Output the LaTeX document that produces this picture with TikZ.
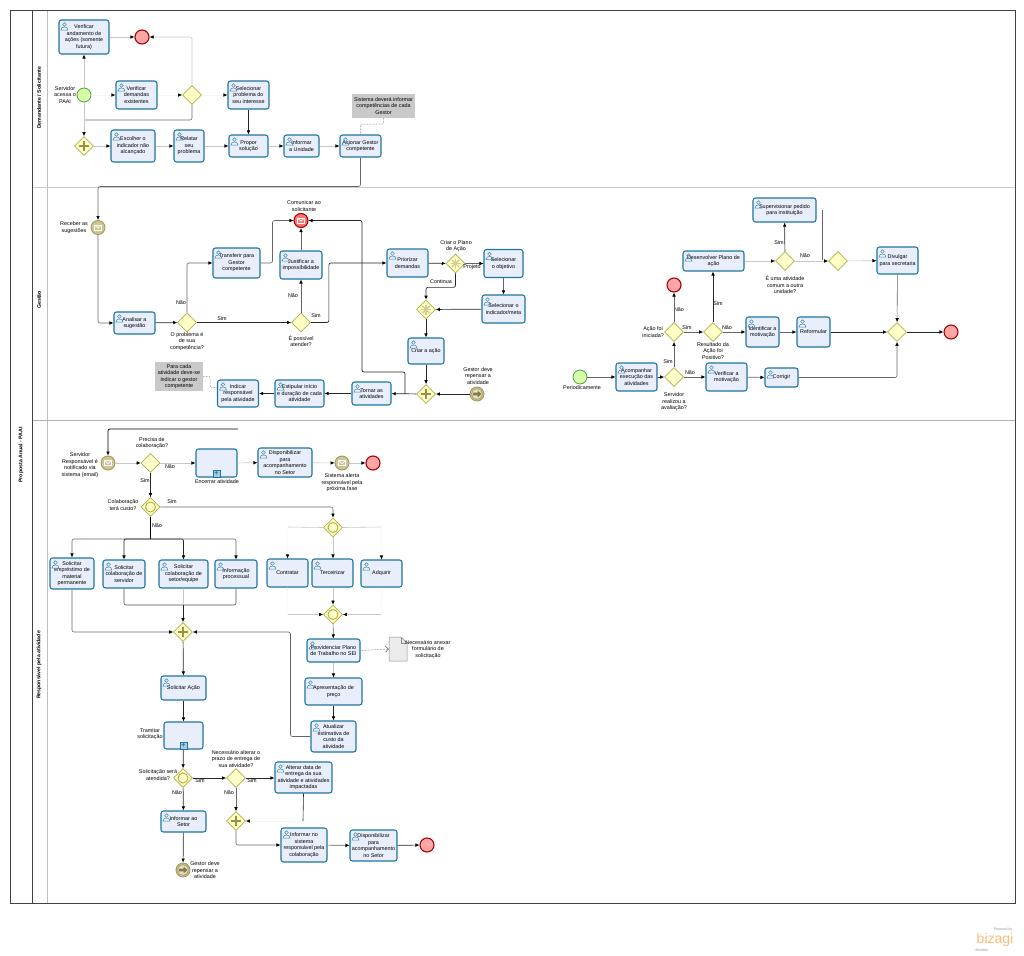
\documentclass[tikz,border=0pt]{standalone}
\usepackage{fontspec}
\setmainfont{Liberation Sans}
\usetikzlibrary{arrows.meta,shapes.geometric}

\definecolor{taskline}{HTML}{1F74A0}
\definecolor{taskfill}{HTML}{E8EEFB}
\definecolor{gateline}{HTML}{B3AE4A}
\definecolor{gatefill}{HTML}{FFFFC8}
\definecolor{evline}{HTML}{A39A5C}
\definecolor{evfill}{HTML}{CDC592}
\definecolor{notefill}{HTML}{C9C9C9}
\newcommand{\lab}{\fontsize{5.4}{6.5}\selectfont}

\tikzset{
  task/.style={draw=taskline,fill=taskfill,rounded corners=2.5pt,line width=1.05pt,align=center,font=\lab,inner sep=0pt},
  gate/.style={diamond,draw=gateline,fill=gatefill,line width=.7pt,minimum width=19pt,minimum height=19pt,inner sep=0pt},
  startev/.style={circle,draw=green!45!black!70,fill=green!45!yellow!35,line width=.8pt,minimum size=14pt,inner sep=0pt},
  endev/.style={circle,draw=red!65!black,fill=red!35!white,line width=1.1pt,minimum size=14pt,inner sep=0pt},
  midev/.style={circle,draw=evline,fill=evfill,line width=.9pt,minimum size=14pt,inner sep=0pt},
  lab/.style={align=center,font=\lab,inner sep=0pt},
  lanetitle/.style={rotate=90,font=\fontsize{5.2}{6}\selectfont\bfseries,inner sep=0pt},
  notebox/.style={fill=notefill,align=center,font=\lab,inner sep=0pt},
  flow/.style={draw=black!60,line width=.6pt,rounded corners=2pt,-{Latex[color=black,length=4pt,width=3.6pt]}},
  flowdark/.style={flow,draw=black!85,line width=.7pt},
  flowlight/.style={flow,draw=black!22},
  flowfaint/.style={flow,draw=black!4},
  plainflow/.style={draw=black!60,line width=.6pt,rounded corners=2pt},
  plainlight/.style={plainflow,draw=black!22},
  plainfaint/.style={plainflow,draw=black!4},
  assoc/.style={draw=black!70,line width=.5pt,densely dotted,rounded corners=1pt},
  usericon/.pic={
    \draw[draw=taskline!85,line width=.5pt] (0,-1.9) circle (1.8);
    \draw[draw=taskline!85,line width=.5pt] (-3.5,3.6) .. controls (-3.5,-.6) and (3.5,-.6) .. (3.5,3.6) -- cycle;
  }
}

\newcommand{\Task}[6]{
  \node[task,minimum width=#4pt,minimum height=#5pt] (#1) at (#2,#3) {#6};
  \pic at ([shift={(6,7)}]#1.north west) {usericon};
}
\newcommand{\SubTask}[5]{
  \node[task,minimum width=#4pt,minimum height=#5pt] (#1) at (#2,#3) {};
  \node[draw=taskline,fill=taskfill!70!taskline,line width=.6pt,minimum size=7pt,inner sep=0pt,above=0pt,font=\bfseries\fontsize{7}{7}\selectfont,text=taskline] (#1mark) at (#1.south) {+};
}
\newcommand{\GatePlus}[1]{
  \draw[evline!70!olive,line width=2pt] ([xshift=-5pt]#1.center) -- ([xshift=5pt]#1.center);
  \draw[evline!70!olive,line width=2pt] ([yshift=-5pt]#1.center) -- ([yshift=5pt]#1.center);
}
\newcommand{\GateRing}[1]{
  \draw[gateline,line width=.9pt,fill=gatefill] (#1.center) circle (5);
}
\newcommand{\GateStar}[1]{
  \foreach \a in {0,45,90,135}{
    \draw[gateline!60,line width=1.4pt] ([shift={(\a:5pt)}]#1.center) -- ([shift={(\a+180:5pt)}]#1.center);
  }
}
\newcommand{\Envelope}[2]{
  \draw[draw=#2,line width=.7pt] ([shift={(-3.6pt,-2.6pt)}]#1.center) rectangle ([shift={(3.6pt,2.6pt)}]#1.center);
  \draw[draw=#2,line width=.7pt] ([shift={(-3.6pt,2.6pt)}]#1.center) -- ([shift={(0pt,-.6pt)}]#1.center) -- ([shift={(3.6pt,2.6pt)}]#1.center);
}
\newcommand{\LinkMark}[1]{
  \draw[evline,line width=.7pt,fill=evfill!50!white] (#1.center) circle (5.4);
  \fill[evline!80!black] ([shift={(-4pt,-1.4pt)}]#1.center) -- ([shift={(.5pt,-1.4pt)}]#1.center) -- ([shift={(.5pt,-3.6pt)}]#1.center) -- ([shift={(4.4pt,0pt)}]#1.center) -- ([shift={(.5pt,3.6pt)}]#1.center) -- ([shift={(.5pt,1.4pt)}]#1.center) -- ([shift={(-4pt,1.4pt)}]#1.center) -- cycle;
}

\begin{document}
\begin{tikzpicture}[x=1pt,y=-1pt]
\useasboundingbox (0,0) rectangle (1024,955);

% pool and lanes
\draw[black!25,line width=.5pt] (47,10) -- (47,903);
\draw[black!20,line width=.9pt] (32,187) -- (1015,187);
\draw[black!30,line width=1.2pt] (32,420.5) -- (1015,420.5);
\draw[black!75,line width=.8pt] (10,10) rectangle (1015,903);
\draw[black!75,line width=.8pt] (32,10) -- (32,903);
\node[lanetitle] (poolname) at (21,455) {Proposta Anual - PAAI};
\node[lanetitle] (lane1) at (39,98) {Demandante / Solicitante};
\node[lanetitle] (lane2) at (39,300) {Gestão};
\node[lanetitle] (lane3) at (39,665) {Responsável pela atividade};

% demandante
\Task{verificarAcoes}{84}{37}{50}{34}{Verificar\\andamento de\\ações (somente\\futura)}
\node[endev] (fimAcoes) at (142,37) {};
\node[startev] (inicio) at (84,95) {};
\node[lab] (inicioLab) at (65,95) {Servidor\\acessa o\\PAAI};
\Task{verificarDemandas}{136.5}{95}{41}{28}{Verificar\\demandas\\existentes}
\node[gate] (gwDemandas) at (192,95) {};
\Task{selecionarProblema}{248.5}{95}{41}{28}{Selecionar\\problema do\\seu interesse}
\node[gate] (gwInicio) at (84,146) {};
\GatePlus{gwInicio}
\Task{escolherIndicador}{133}{146}{44}{32}{Escolher o\\indicador não\\alcançado}
\Task{relatarProblema}{189}{146}{30}{32}{Relatar\\seu\\problema}
\Task{proporSolucao}{248.5}{146}{39}{22}{Propor\\solução}
\Task{informarUnidade}{301.5}{146}{35}{22}{Informar\\a Unidade}
\Task{acionarGestor}{360.5}{146}{41}{22}{Acionar Gestor\\competente}
\node[notebox,minimum width=63pt,minimum height=24pt] (notaCompetencia) at (383.5,106) {Sistema deverá informar\\competências de cada\\Gestor};
\coordinate (juncaoInicio) at (85,120);

\draw[flowlight] (inicio) -- (verificarAcoes);
\draw[flowlight] (verificarAcoes) -- (fimAcoes);
\draw[flowlight] (gwDemandas.north) |- (fimAcoes.east);
\draw[flowlight] (inicio) -- (gwInicio);
\draw[plainflow] (gwDemandas.south) |- (juncaoInicio);
\draw[flowfaint] (inicio) -- (verificarDemandas);
\draw[flowfaint] (verificarDemandas) -- (gwDemandas);
\draw[flowfaint] (gwDemandas) -- (selecionarProblema);
\draw[flowlight] (gwInicio) -- (escolherIndicador);
\draw[flowlight] (escolherIndicador) -- (relatarProblema);
\draw[flowlight] (relatarProblema) -- (proporSolucao);
\draw[flowlight] (proporSolucao) -- (informarUnidade);
\draw[flowlight] (informarUnidade) -- (acionarGestor);
\draw[flowdark] (selecionarProblema) -- (proporSolucao);
\draw[assoc] (notaCompetencia.south) -- ++(0,6) -| (acionarGestor.north);

% gestao
\node[midev] (receber) at (98,227.5) {};
\Envelope{receber}{white}
\node[lab,anchor=east] (receberLab) at (88,227.5) {Receber as\\sugestões};
\Task{analisarSugestao}{134.5}{323}{41}{22}{Analisar a\\sugestão}
\node[gate] (gwCompetencia) at (187,322.5) {};
\node[lab] (gwCompetenciaLab) at (187,341.5) {O problema é\\de sua\\competência?};
\Task{transferir}{236.5}{263}{47}{30}{Transferir para\\Gestor\\competente}
\node[gate] (gwAtender) at (301,322.5) {};
\node[lab] (gwAtenderLab) at (301,341) {É possível\\atender?};
\Task{justificar}{301}{265}{42}{28}{Justificar a\\impossibilidade}
\node[endev,fill=red!55!white] (comunicar) at (301,220.5) {};
\Envelope{comunicar}{white}
\node[lab] (comunicarLab) at (304,206) {Comunicar ao\\solicitante};
\node[lab] (naoA) at (181,303) {Não};
\node[lab] (simA) at (222,319) {Sim};
\node[lab] (naoB) at (293,296) {Não};
\node[lab] (simB) at (316,316) {Sim};
\Task{priorizar}{407.5}{263}{41}{28}{Priorizar\\demandas}
\node[gate] (gwPlano) at (455.5,263.5) {};
\GateStar{gwPlano}
\node[lab] (gwPlanoLab) at (456,246) {Criar o Plano\\de Ação};
\node[lab] (projetoLab) at (472,267) {Projeto};
\node[lab] (continuaLab) at (441,282) {Continua};
\Task{selecionarObjetivo}{503.5}{263.5}{39}{28}{Selecionar\\o objetivo}
\Task{selecionarMeta}{503.5}{309}{43}{28}{Selecionar o\\indicador/meta}
\node[gate] (gwJuncao) at (426,309.5) {};
\GateStar{gwJuncao}
\Task{criarAcao}{426}{351}{36}{26}{Criar a ação}
\node[gate] (gwAcao) at (426,394) {};
\GatePlus{gwAcao}
\node[midev] (repensar) at (477,394) {};
\LinkMark{repensar}
\node[lab] (repensarLab) at (478,376) {Gestor deve\\repensar a\\atividade};
\Task{tornarAtividades}{371.5}{393.5}{39}{23}{Tornar as\\atividades}
\Task{estipular}{299.5}{393.5}{49}{27}{Estipular início\\e duração de cada\\atividade}
\Task{indicar}{238}{393.5}{41}{27}{Indicar\\responsável\\pela atividade}
\node[notebox,minimum width=48pt,minimum height=29pt] (notaAtividade) at (179,376.5) {Para cada\\atividade deve-se\\indicar o gestor\\competente};
\coordinate (saidaAcao) at (405,394);

\draw[flow] (acionarGestor.south) -- ++(0,29) -| (receber.north);
\draw[flow] (receber.south) |- (analisarSugestao.west);
\draw[flowdark] (analisarSugestao) -- (gwCompetencia);
\draw[flow] (gwCompetencia.north) |- (transferir.west);
\draw[flow] (transferir.east) -- ++(12,0) |- (comunicar.west);
\draw[flowdark] (gwCompetencia) -- (gwAtender);
\draw[flow] (gwAtender) -- (justificar);
\draw[flow] (justificar) -- (comunicar);
\draw[flowdark] (gwAtender.east) -- ++(18,0) |- (priorizar.west);
\draw[flowdark] (priorizar) -- (gwPlano);
\draw[flow] (gwPlano) -- (selecionarObjetivo);
\draw[flowdark] (gwPlano.south) -- ++(0,14) -| (gwJuncao.north);
\draw[flow] (selecionarObjetivo) -- (selecionarMeta);
\draw[flowdark] (selecionarMeta) -- (gwJuncao);
\draw[flowdark] (gwJuncao) -- (criarAcao);
\draw[flowdark] (criarAcao) -- (gwAcao);
\draw[flowdark] (repensar) -- (gwAcao);
\draw[flowdark] (gwAcao) -- (tornarAtividades);
\draw[flowdark] (tornarAtividades) -- (estipular);
\draw[flowdark] (estipular) -- (indicar);
\draw[flowdark] (saidaAcao) -- ++(0,-22) -- ++(-43,0) |- (comunicar.east);
\draw[assoc] (notaAtividade.east) -- ++(7,0) |- ([yshift=6pt]indicar.west);

% acompanhamento
\node[startev] (periodo) at (580,377) {};
\node[lab] (periodoLab) at (582,388) {Periodicamente};
\Task{acompanhar}{636.5}{377}{41}{28}{Acompanhar\\execução das\\atividades}
\node[gate] (gwAvaliacao) at (674,377) {};
\node[lab] (gwAvaliacaoLab) at (674,402) {Servidor\\realizou a\\avaliação?};
\node[gate] (gwIniciada) at (674,332) {};
\node[lab,anchor=east] (gwIniciadaLab) at (664,332) {Ação foi\\iniciada?};
\node[endev] (fimIniciada) at (674,285) {};
\node[gate] (gwResultado) at (713,332) {};
\node[lab] (gwResultadoLab) at (713,351) {Resultado da\\Ação foi\\Positivo?};
\Task{desenvolver}{713.5}{261}{61}{20}{Desenvolver Plano de\\ação}
\Task{identificar}{762.5}{332}{33}{30}{Identificar a\\motivação}
\Task{reformular}{813.5}{332}{33}{30}{Reformular}
\Task{verificarMotivo}{726.5}{377}{41}{28}{Verificar a\\motivação}
\Task{corrigir}{781.5}{377.5}{33}{19}{Corrigir}
\node[gate] (gwComum) at (785,261) {};
\node[lab] (gwComumLab) at (785,285) {É uma atividade\\comum a outra\\unidade?};
\Task{supervisionar}{784.5}{210}{63}{24}{Supervisionar pedido\\para instituição}
\node[gate] (gwDivulgar) at (838,261) {};
\Task{divulgar}{897.5}{260.5}{41}{27}{Divulgar\\para secretaria}
\node[gate] (gwFinal) at (897,332) {};
\node[endev] (fimFinal) at (951,332) {};
\coordinate (voltaComum) at (822,210);
\node[lab] (simC) at (668,362) {Sim};
\node[lab] (naoC) at (690,373) {Não};
\node[lab] (naoD) at (679,310) {Não};
\node[lab] (simD) at (687,328) {Sim};
\node[lab] (simE) at (718,304) {Sim};
\node[lab] (naoE) at (727,328) {Não};
\node[lab] (simF) at (779,243) {Sim};
\node[lab] (naoF) at (805,256) {Não};

\draw[flow] (periodo) -- (acompanhar);
\draw[flowdark] (acompanhar) -- (gwAvaliacao);
\draw[flow] (gwAvaliacao) -- (gwIniciada);
\draw[flow] (gwIniciada) -- (fimIniciada);
\draw[flow] (gwIniciada) -- (gwResultado);
\draw[flowdark] (gwResultado) -- (desenvolver.south -| gwResultado);
\draw[flow] (gwResultado) -- (identificar);
\draw[flow] (identificar) -- (reformular);
\draw[flowdark] (reformular) -- (gwFinal);
\draw[flow] (gwAvaliacao) -- (verificarMotivo);
\draw[flow] (verificarMotivo) -- (corrigir);
\draw[flow] (corrigir.east) -| (gwFinal.south);
\draw[flowlight] (desenvolver) -- (gwComum);
\draw[flowdark] (gwComum) -- (supervisionar);
\draw[flowlight] (gwComum) -- (gwDivulgar);
\draw[plainflow] (voltaComum) -- ++(0,50);
\draw[flowlight] (gwDivulgar) -- (divulgar);
\draw[flow] (divulgar) -- (gwFinal);
\draw[flowdark] (gwFinal) -- (fimFinal);

% responsavel
\node[midev] (notificado) at (108,463) {};
\Envelope{notificado}{white}
\node[lab] (notificadoLab) at (80,465) {Servidor\\Responsável é\\notificado via\\sistema (email)};
\coordinate (voltaNotifica) at (238,429);
\node[gate] (gwColabora) at (150.5,463) {};
\node[lab] (gwColaboraLab) at (152,443) {Precisa de\\colaboração?};
\SubTask{encerrar}{216.5}{463}{41}{28}
\node[lab] (encerrarLab) at (217,482) {Encerrar atividade};
\Task{disponibilizar}{285}{462.5}{54}{29}{Disponibilizar\\para\\acompanhamento\\no Setor}
\node[midev] (alerta) at (342,463) {};
\Envelope{alerta}{white}
\node[lab] (alertaLab) at (342,483) {Sistema alerta\\responsável pela\\próxima fase};
\node[endev] (fimAlerta) at (373,463) {};
\node[gate] (gwCusto) at (150.5,507) {};
\GateRing{gwCusto}
\node[lab] (gwCustoLab) at (123,505) {Colaboração\\terá custo?};
\node[lab] (naoG) at (170,467) {Não};
\node[lab] (simG) at (145,481) {Sim};
\node[lab] (simH) at (172,502) {Sim};
\node[lab] (naoH) at (157,526) {Não};

\Task{solicitarMaterial}{72}{573.5}{44}{31}{Solicitar\\empréstimo de\\material\\permanente}
\Task{solicitarServidor}{124}{574}{42}{28}{Solicitar\\colaboração de\\servidor}
\Task{solicitarSetor}{183.5}{574}{49}{28}{Solicitar\\colaboração de\\setor/equipe}
\Task{informacao}{236}{574}{42}{28}{Informação\\processual}
\Task{contratar}{287.5}{573}{41}{28}{Contratar}
\Task{terceirizar}{332.5}{573}{41}{28}{Terceirizar}
\Task{adquirir}{381.5}{573.5}{41}{27}{Adquirir}
\node[gate] (gwTipo) at (333,527.5) {};
\GateRing{gwTipo}
\node[gate] (gwTipoFim) at (333,614.5) {};
\GateRing{gwTipoFim}
\node[gate] (gwReune) at (183,632) {};
\GatePlus{gwReune}
\Task{providenciar}{333.5}{650.5}{53}{23}{Providenciar Plano\\de Trabalho no SEI}
\Task{apresentar}{333.5}{691.5}{57}{27}{Apresentação de\\preço}
\Task{atualizar}{333.5}{736.5}{45}{31}{Atualizar\\estimativa de\\custo da\\atividade}
\node[minimum width=18pt,minimum height=24pt,inner sep=0pt] (documento) at (398,649) {};
\draw[black!45,fill=black!8,line width=.5pt] (389,637) -- (401,637) -- (407,643) -- (407,661) -- (389,661) -- cycle;
\draw[black!45,line width=.5pt] (401,637) -- (401,643) -- (407,643);
\node[lab] (documentoLab) at (428,649.5) {Necessário anexar\\formulário de\\solicitação};
\Task{solicitarAcao}{183.5}{688}{45}{24}{Solicitar Ação}
\SubTask{tramitar}{183.5}{735.5}{39}{27}
\node[lab] (tramitarLab) at (150,734) {Tramitar\\solicitação};
\node[gate] (gwAtendida) at (183,778) {};
\GateRing{gwAtendida}
\node[lab] (gwAtendidaLab) at (158,775) {Solicitação será\\atendida?};
\node[gate] (gwPrazo) at (236,778) {};
\node[lab] (gwPrazoLab) at (236,759) {Necessário alterar o\\prazo de entrega de\\sua atividade?};
\Task{alterar}{303.5}{777.5}{57}{31}{Alterar data de\\entrega da sua\\atividade e atividades\\impactadas}
\node[gate] (gwSistema) at (236,821) {};
\GatePlus{gwSistema}
\Task{informarSistema}{304}{845}{46}{34}{Informar no\\sistema\\responsável pela\\colaboração}
\Task{disponibilizarFim}{373.5}{845.5}{47}{31}{Disponibilizar\\para\\acompanhamento\\no Setor}
\node[endev] (fimColabora) at (427,845) {};
\Task{informarSetor}{183.5}{821.5}{45}{21}{Informar ao\\Setor}
\node[midev] (repensarFim) at (183,870) {};
\LinkMark{repensarFim}
\node[lab] (repensarFimLab) at (205,870.5) {Gestor deve\\repensar a\\atividade};
\node[lab] (simI) at (200,781) {Sim};
\node[lab] (naoI) at (177,793) {Não};
\node[lab] (simJ) at (252,781) {Sim};
\node[lab] (naoJ) at (229,793) {Não};
\coordinate (ramoCusto) at (150.5,539);
\coordinate (ramoFim) at (183,605);
\coordinate (pontaEsqA) at (288,527);
\coordinate (pontaDirA) at (381,527);
\coordinate (pontaEsqB) at (288,614.5);
\coordinate (pontaDirB) at (381,614.5);
\coordinate (pontaAlterar) at (303,821);

\draw[flowdark,draw=black] (voltaNotifica) -| (notificado.north);
\draw[flowlight] (notificado) -- (gwColabora);
\draw[flowlight] (gwColabora) -- (encerrar);
\draw[flowlight] (encerrar) -- (disponibilizar);
\draw[flowlight] (disponibilizar) -- (alerta);
\draw[flowlight] (alerta) -- (fimAlerta);
\draw[flowdark] (gwColabora) -- (gwCusto);
\draw[flow] (gwCusto.east) -| (gwTipo.north);
\draw[plainflow,draw=black] (gwCusto.south) -- (ramoCusto);
\draw[flow] (ramoCusto) -| (solicitarMaterial.north);
\draw[flowdark] (ramoCusto) -| (solicitarServidor.north);
\draw[flowdark] (ramoCusto) -| (solicitarSetor.north);
\draw[flow] (ramoCusto) -| (informacao.north);
\draw[plainflow,draw=black!70] (solicitarServidor.south) |- (ramoFim);
\draw[plainlight] (solicitarSetor.south) |- (ramoFim);
\draw[plainflow,draw=black!70] (informacao.south) |- (ramoFim);
\draw[flowdark] (ramoFim) -- (gwReune);
\draw[flow] (solicitarMaterial.south) |- (gwReune.west);
\draw[plainlight] (gwTipo.west) -- (pontaEsqA);
\draw[flowfaint] (pontaEsqA) -- (contratar.north);
\draw[plainlight] (gwTipo.east) -- (pontaDirA);
\draw[flowfaint] (pontaDirA) -- (adquirir.north);
\draw[flowlight] (gwTipo) -- (terceirizar.north -| gwTipo);
\draw[flowlight] (terceirizar.south -| gwTipoFim) -- (gwTipoFim);
\draw[plainfaint] (contratar.south) -- (pontaEsqB);
\draw[flowlight] (pontaEsqB) -- (gwTipoFim.west);
\draw[plainfaint] (adquirir.south) -- (pontaDirB);
\draw[flowlight] (pontaDirB) -- (gwTipoFim.east);
\draw[flow] (gwTipoFim) -- (providenciar);
\draw[flowlight] (providenciar) -- (apresentar);
\draw[flowdark] (apresentar) -- (atualizar);
\draw[flow] (atualizar.west) -- ++(-20,0) |- (gwReune.east);
\draw[assoc,-{Straight Barb[length=3pt]}] (providenciar.east) -- (documento.west);
\draw[flowdark] (gwReune) -- (solicitarAcao);
\draw[flowdark] (solicitarAcao) -- (tramitar);
\draw[flowdark] (tramitar) -- (gwAtendida);
\draw[flowdark] (gwAtendida) -- (gwPrazo);
\draw[flowdark] (gwPrazo) -- (alterar.west |- gwPrazo);
\draw[flow] (gwPrazo) -- (gwSistema);
\draw[plainflow,draw=black!85] (alterar.south) -- (pontaAlterar);
\draw[flowfaint] (pontaAlterar) -- (gwSistema.east);
\draw[flow] (gwSistema.south) |- (informarSistema.west);
\draw[flow] (informarSistema) -- (disponibilizarFim);
\draw[flowdark] (disponibilizarFim) -- (fimColabora);
\draw[flowdark] (gwAtendida) -- (informarSetor);
\draw[flowdark] (informarSetor) -- (repensarFim);

% marca
\node[font=\fontsize{3.5}{4}\selectfont,text=black!45,inner sep=0pt] (powered) at (1003,929.5) {Powered by};
\node[font=\fontsize{14}{14}\selectfont,text=orange!55!white,inner sep=0pt] (marca) at (995,940) {bizagi};
\node[font=\fontsize{3.5}{4}\selectfont,text=black!45,inner sep=0pt] (modeler) at (982,950) {Modeler};

\end{tikzpicture}
\end{document}
